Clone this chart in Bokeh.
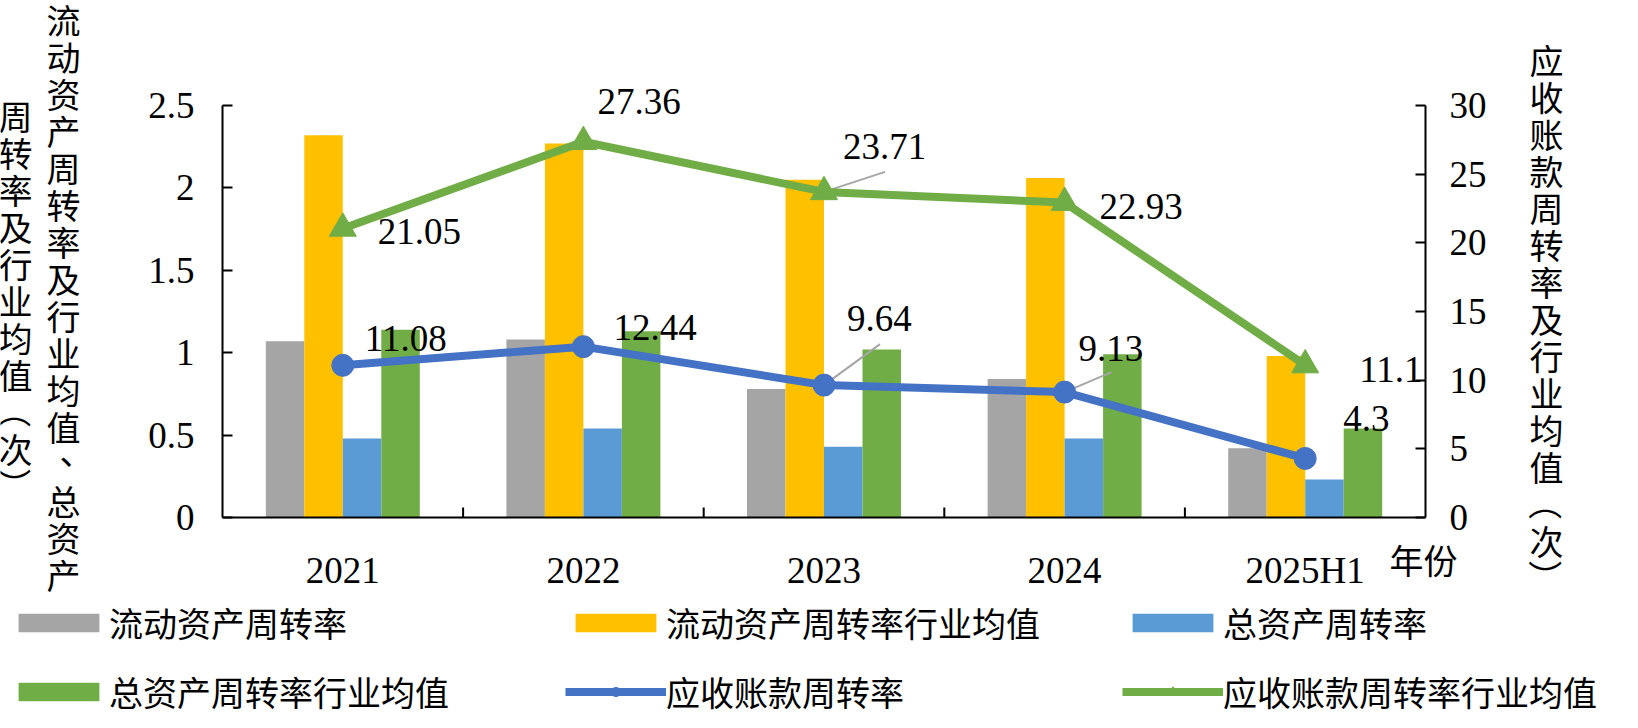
import math
from bokeh.plotting import figure
from bokeh.layouts import row, column
from bokeh.models import (ColumnDataSource, FactorRange, Range1d, LinearAxis, FixedTicker,
                          NumeralTickFormatter, Label, Legend, LegendItem)
from bokeh.transform import dodge
from bokeh.core.properties import value
from bokeh.embed import file_html
from bokeh.resources import INLINE

# ---------------- data ----------------
YEARS = ["2021", "2022", "2023", "2024", "2025H1"]
CA_TURNOVER = [1.07, 1.08, 0.78, 0.84, 0.42]          # 流动资产周转率
CA_TURNOVER_IND = [2.32, 2.27, 2.05, 2.06, 0.98]      # 流动资产周转率行业均值
TA_TURNOVER = [0.48, 0.54, 0.43, 0.48, 0.23]          # 总资产周转率
TA_TURNOVER_IND = [1.14, 1.13, 1.02, 0.99, 0.54]      # 总资产周转率行业均值
AR_TURNOVER = [11.08, 12.44, 9.64, 9.13, 4.3]         # 应收账款周转率
AR_TURNOVER_IND = [21.05, 27.36, 23.71, 22.93, 11.1]  # 应收账款周转率行业均值
LEFT_TICKS = [0, 0.5, 1, 1.5, 2, 2.5]
RIGHT_TICKS = [0, 5, 10, 15, 20, 25, 30]

SERIES_NAMES = ["流动资产周转率", "流动资产周转率行业均值", "总资产周转率",
                "总资产周转率行业均值", "应收账款周转率", "应收账款周转率行业均值"]
LEFT_TITLE_1 = "流动资产周转率及行业均值、总资产"
LEFT_TITLE_2 = "周转率及行业均值（次）"
RIGHT_TITLE = "应收账款周转率及行业均值（次）"
X_TITLE = "年份"

# ---------------- style ----------------
GREY, YELLOW, BLUE_BAR, GREEN_BAR = "#A5A5A5", "#FFC000", "#5B9BD5", "#70AD47"
BLUE_LINE, GREEN_LINE = "#4472C4", "#70AD47"
LEADER = "#A6A6A6"
NUM_FONT = "Liberation Serif"
CJK_FONT = "Noto Sans CJK SC"
NUM_SIZE = "37px"
CJK_SIZE = "34px"
PITCH = 37

TOTAL_W, TOP_H, LEG_H = 1622, 598, 114
LEFT_W, RIGHT_W = 95, 107
MAIN_W = TOTAL_W - LEFT_W - RIGHT_W
# axis box in page-figure px (x from left edge of the whole layout)
FL, FR, FT, FB = 222, 1425, 105, 517
FT_EXT = 60
FW, FH = FR - FL, FB - FT

BAR_OFFSETS = [-0.24, -0.08, 0.08, 0.24]
BAR_WIDTH = 0.16

# label offsets in px (dx right, dy up)
AR_LABEL_OFF = [(22, 27), (30, 19), (23, 67), (14, 44), (38, 40)]
AR_IND_LABEL_OFF = [(35, -3), (14, 40), (19, 45), (35, -4), (54, -4)]
# leader lines (series, index, dx px, dy px)
LEADERS = [("ind", 2, 61, 20), ("ar", 2, 56, 41), ("ar", 3, 47, 20)]

left_ppu = FH / (LEFT_TICKS[-1] - LEFT_TICKS[0])
right_ppu = FH / (RIGHT_TICKS[-1] - RIGHT_TICKS[0])
cat_px = FW / len(YEARS)


def no_align(f):
    try:
        f.frame_align = False
    except Exception:
        pass


# ================= main chart =================
p = figure(width=MAIN_W, height=TOP_H,
           x_range=FactorRange(factors=YEARS, range_padding=0),
           y_range=Range1d(LEFT_TICKS[0], LEFT_TICKS[-1] + (FT - FT_EXT) / left_ppu),
           output_backend="svg", toolbar_location=None,
           min_border_left=FL - LEFT_W, min_border_right=LEFT_W + MAIN_W - FR,
           min_border_top=FT_EXT, min_border_bottom=TOP_H - FB)
no_align(p)
p.extra_y_ranges = {"right": Range1d(RIGHT_TICKS[0], RIGHT_TICKS[-1] + (FT - FT_EXT) / right_ppu)}
p.outline_line_color = None
p.grid.visible = False
p.title.visible = False
p.background_fill_color = "white"
p.border_fill_color = "white"

src = ColumnDataSource(dict(year=YEARS, ca=CA_TURNOVER, ca_ind=CA_TURNOVER_IND,
                            ta=TA_TURNOVER, ta_ind=TA_TURNOVER_IND,
                            ar=AR_TURNOVER, ar_ind=AR_TURNOVER_IND))

for col, off, color in zip(["ca", "ca_ind", "ta", "ta_ind"], BAR_OFFSETS,
                           [GREY, YELLOW, BLUE_BAR, GREEN_BAR]):
    p.vbar(x=dodge("year", off, range=p.x_range), top=col, width=BAR_WIDTH,
           source=src, fill_color=color, line_color=None)

# category boundary ticks on x axis (pointing up)
bsrc = ColumnDataSource(dict(x=YEARS[:-1], y0=[0] * (len(YEARS) - 1),
                             y1=[10 / left_ppu] * (len(YEARS) - 1)))
p.segment(x0=dodge("x", 0.5, range=p.x_range), y0="y0",
          x1=dodge("x", 0.5, range=p.x_range), y1="y1", source=bsrc,
          line_color="black", line_width=2)

# leader lines
for ser, i, dx, dy in LEADERS:
    v = AR_TURNOVER_IND[i] if ser == "ind" else AR_TURNOVER[i]
    s = ColumnDataSource(dict(x=[YEARS[i]], y0=[v], y1=[v + dy / right_ppu]))
    p.segment(x0="x", y0="y0", x1=dodge("x", dx / cat_px, range=p.x_range), y1="y1",
              source=s, y_range_name="right", line_color=LEADER, line_width=2)

p.line(x="year", y="ar_ind", source=src, y_range_name="right",
       line_color=GREEN_LINE, line_width=8)
p.scatter(x="year", y="ar_ind", source=src, y_range_name="right",
          marker="triangle", size=27, fill_color=GREEN_LINE, line_color=GREEN_LINE)
p.line(x="year", y="ar", source=src, y_range_name="right",
       line_color=BLUE_LINE, line_width=8)
p.scatter(x="year", y="ar", source=src, y_range_name="right",
          marker="circle", size=22, fill_color=BLUE_LINE, line_color=BLUE_LINE)


def add_labels(vals, offs):
    s = ColumnDataSource(dict(year=YEARS, y=vals, text=[str(v) for v in vals],
                              dx=[o[0] for o in offs], dy=[-o[1] for o in offs]))
    p.text(x="year", y="y", text="text", x_offset="dx", y_offset="dy", source=s,
           y_range_name="right", text_font=value(NUM_FONT), text_font_size=NUM_SIZE,
           text_align="left", text_baseline="middle", text_color="black")


add_labels(AR_TURNOVER_IND, AR_IND_LABEL_OFF)
add_labels(AR_TURNOVER, AR_LABEL_OFF)


def style_axis(ax, ticks, standoff):
    ax.ticker = FixedTicker(ticks=ticks)
    ax.bounds = (ticks[0], ticks[-1])
    ax.formatter = NumeralTickFormatter(format="0.[0]")
    ax.major_tick_in = 10
    ax.major_tick_out = 0
    ax.major_tick_line_width = 2
    ax.major_tick_line_color = "black"
    ax.minor_tick_line_color = None
    ax.axis_line_width = 2
    ax.axis_line_color = "black"
    ax.major_label_text_font = NUM_FONT
    ax.major_label_text_font_size = NUM_SIZE
    ax.major_label_text_color = "black"
    ax.major_label_standoff = standoff


style_axis(p.yaxis[0], LEFT_TICKS, 28)
ra = LinearAxis(y_range_name="right")
style_axis(ra, RIGHT_TICKS, 24)
p.add_layout(ra, "right")

xa = p.xaxis[0]
xa.major_tick_line_color = None
xa.minor_tick_line_color = None
xa.axis_line_width = 2
xa.axis_line_color = "black"
xa.major_label_text_font = NUM_FONT
xa.major_label_text_font_size = NUM_SIZE
xa.major_label_text_color = "black"
xa.major_label_standoff = 26

# x title "年份" (in the top side panel so it is not clipped; anchored at data (0, 0))
p.add_layout(Label(x=0, y=0, x_units="data", y_units="data",
                   x_offset=1389 - FL, y_offset=FB - 559, text=X_TITLE,
                   text_align="left", text_baseline="middle",
                   text_font=CJK_FONT, text_font_size=CJK_SIZE, text_color="black"), "above")


# ================= vertical titles =================
def title_fig(width, columns):
    f = figure(width=width, height=TOP_H, x_range=Range1d(0, width), y_range=Range1d(TOP_H, 0),
               output_backend="svg", toolbar_location=None, min_border=0,
               min_border_left=0, min_border_right=0, min_border_top=0, min_border_bottom=0,
               x_axis_type=None, y_axis_type=None)
    no_align(f)
    f.outline_line_color = None
    f.grid.visible = False
    f.title.visible = False
    xs, ys, ts, angs, dxs, dys = [], [], [], [], [], []
    for xc, ytop, text in columns:
        for i, ch in enumerate(text):
            xs.append(xc); ys.append(ytop + PITCH * (i + 0.5)); ts.append(ch)
            angs.append(-math.pi / 2 if ch in "（）" else 0.0)
            dxs.append(13 if ch == "、" else 0); dys.append(-13 if ch == "、" else 0)
    f.text(x=xs, y=ys, text=ts, angle=angs, x_offset=dxs, y_offset=dys,
           text_align="center", text_baseline="middle",
           text_font=value(CJK_FONT), text_font_size=CJK_SIZE, text_color="black")
    return f


left_fig = title_fig(LEFT_W, [(63, 0, LEFT_TITLE_1), (15, 96, LEFT_TITLE_2)])
right_fig = title_fig(RIGHT_W, [(1546 - LEFT_W - MAIN_W, 40, RIGHT_TITLE)])

# ================= legend strip =================
lf = figure(width=TOTAL_W, height=LEG_H, x_range=Range1d(0, 1), y_range=Range1d(0, 1),
            output_backend="svg", toolbar_location=None,
            min_border_left=8, min_border_top=0, min_border_right=0, min_border_bottom=0,
            x_axis_type=None, y_axis_type=None)
no_align(lf)
lf.outline_line_color = None
lf.grid.visible = False
lf.title.visible = False
# proxy renderers (kept outside the visible range) that only supply legend glyphs
proxies = []
for color in [GREY, YELLOW, BLUE_BAR, GREEN_BAR]:
    proxies.append([lf.vbar(x=[5], top=[6], bottom=[5], width=0.1,
                            fill_color=color, line_color=None)])
for color, marker, size in [(BLUE_LINE, "circle", 22), (GREEN_LINE, "triangle", 27)]:
    ln = lf.line(x=[5, 6], y=[5, 5], line_color=color, line_width=8)
    mk = lf.scatter(x=[5], y=[5], marker=marker, size=size, fill_color=color, line_color=color)
    proxies.append([ln, mk])

lg = Legend(items=[LegendItem(label=n, renderers=r) for n, r in zip(SERIES_NAMES, proxies)],
            location="top_left", orientation="horizontal", ncols=3,
            padding=0, margin=0, spacing=20, label_standoff=0,
            glyph_width=101, glyph_height=23, label_height=36, label_width=436,
            label_text_font=CJK_FONT, label_text_font_size=CJK_SIZE,
            label_text_color="black", border_line_color=None,
            background_fill_alpha=0)
lf.add_layout(lg)

layout = column(row(left_fig, p, right_fig, spacing=0), lf, spacing=0)
open("out.html", "w").write(file_html(layout, INLINE))
